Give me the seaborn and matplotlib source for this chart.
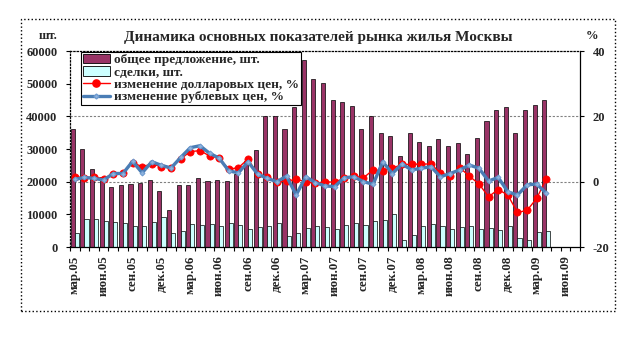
import numpy as np
import pandas as pd
import matplotlib
matplotlib.use('Agg')
import matplotlib.pyplot as plt
import seaborn as sns
from matplotlib.patches import Rectangle
from matplotlib.lines import Line2D

sns.set_theme(style='white')
plt.rcParams['font.family'] = ['Liberation Serif', 'DejaVu Serif']
plt.rcParams['font.weight'] = 'bold'

month_names = ['янв', 'фев', 'мар', 'апр', 'май', 'июн',
               'июл', 'авг', 'сен', 'окт', 'ноя', 'дек']
categories = [f'{m}.{y:02d}' for y in range(5, 10) for m in month_names][2:55]

tick_labels = ['мар.05', 'июн.05', 'сен.05', 'дек.05', 'мар.06', 'июн.06',
               'сен.06', 'дек.06', 'мар.07', 'июн.07', 'сен.07', 'дек.07',
               'мар.08', 'июн.08', 'сен.08', 'дек.08', 'мар.09', 'июн.09']

offer = [36000, 30000, 24000, 21500, 18300, 19000, 19200, 19600, 20600, 17200,
         11300, 19100, 19100, 21200, 20100, 20600, 20100, 22400, 26300, 29800,
         40000, 40000, 36000, 43000, 57200, 51300, 50300, 45000, 44300, 43300,
         36000, 40000, 35000, 34000, 28000, 35000, 32200, 31000, 33200, 31000,
         31800, 28600, 33500, 38600, 42000, 43000, 35000, 41800, 43400, 45000]

deals = [4300, 8600, 8500, 8000, 7700, 7300, 6400, 6400, 7600, 9300,
         4300, 4900, 7000, 6600, 7000, 6500, 7300, 6600, 5500, 6100,
         6500, 7300, 3400, 4300, 5900, 6300, 6100, 5600, 6600, 7300,
         6600, 7900, 8300, 10100, 2000, 3800, 6400, 7000, 6400, 5600,
         6100, 6500, 5600, 5900, 5100, 6400, 2900, 2100, 4700, 5000]

usd_change = [1.5, 1.2, 1.5, 0.9, 2.5, 2.7, 5.8, 4.6, 5.4, 4.6,
              4.1, 7.0, 9.2, 9.5, 7.9, 7.2, 3.8, 4.3, 6.9, 2.3,
              1.3, 0.0, 0.2, 0.7, 0.0, -0.5, 0.0, -0.2, 1.1, 1.7,
              1.2, 3.6, 3.3, 4.1, 5.3, 5.3, 5.4, 5.4, 2.7, 1.7,
              4.3, 1.7, -0.7, -4.6, -2.4, -4.1, -9.4, -8.8, -5.1, 0.9]

rub_change = [0.7, 1.3, 1.0, 0.5, 2.5, 2.5, 6.2, 2.7, 6.1, 5.0,
              4.2, 7.4, 10.4, 11.0, 8.7, 7.2, 3.3, 2.7, 6.1, 2.3,
              1.0, 0.0, 1.7, -4.1, 1.5, -0.3, -1.3, -1.5, 1.2, 1.5,
              0.0, -0.8, 6.1, 2.5, 5.4, 3.6, 4.1, 4.6, 1.5, 2.5,
              3.6, 5.1, 4.1, 0.2, 1.3, -3.1, -4.1, -1.0, -0.7, -3.6]

series_names = ['общее предложение, шт.', 'сделки, шт.',
                'изменение долларовых цен, %', 'изменение рублевых цен, %']

MAROON = '#993366'
CYAN = '#CCFFFF'
RED = '#FF0000'
BLUE = '#4A7DB5'

n = len(offer)
df = pd.DataFrame({
    'month': categories[:n] * 2,
    'series': [series_names[0]] * n + [series_names[1]] * n,
    'value': offer + deals,
})

W, H = 641, 341
fig = plt.figure(figsize=(W / 100, H / 100), dpi=100)
fig.patch.set_facecolor('white')

ax1 = fig.add_axes([70 / W, 1 - 247 / H, 510 / W, 196 / H])
ax1.set_facecolor('white')
for y in (20000, 40000):
    ax1.axhline(y, color='#808080', lw=0.8, ls=(0, (2, 1.5)), zorder=0)

sns.barplot(data=df, x='month', y='value', hue='series', order=categories,
            hue_order=series_names[:2], palette=[MAROON, CYAN], width=0.85,
            edgecolor='black', linewidth=0.5, saturation=1, errorbar=None,
            legend=False, ax=ax1)

ax1.set_ylim(0, 60000)
ax1.set_yticks(range(0, 60001, 10000))
ax1.set_yticklabels([str(v) for v in range(0, 60001, 10000)])
ax1.set_xlabel('')
ax1.set_ylabel('')

ax2 = ax1.twinx()
xs = np.arange(n)
sns.lineplot(x=xs, y=usd_change, ax=ax2, color=RED, lw=1.0, marker='o',
             markersize=5.2, markeredgecolor=RED, markeredgewidth=0.5)
sns.lineplot(x=xs, y=rub_change, ax=ax2, color=BLUE, lw=2.4, marker='D',
             markersize=2.5, markeredgecolor='#6F9BD0', markerfacecolor='#8FB3DD')
ax2.set_ylim(-20, 40)
ax2.set_yticks([-20, 0, 20, 40])
ax2.set_yticklabels(['-20', '0', '20', '40'])
ax2.set_ylabel('')

for ax in (ax1, ax2):
    ax.set_xlim(-0.5, len(categories) - 0.5)
    for s in ax.spines.values():
        s.set_visible(False)

ax1.spines['left'].set_visible(True)
ax1.spines['left'].set_color('black')
ax1.spines['left'].set_linestyle(':')
ax1.spines['left'].set_linewidth(0.9)
ax1.spines['top'].set_visible(True)
ax1.spines['top'].set_color('black')
ax1.spines['top'].set_linestyle(':')
ax1.spines['top'].set_linewidth(0.9)
ax1.spines['bottom'].set_visible(True)
ax1.spines['bottom'].set_color('black')
ax1.spines['bottom'].set_linewidth(0.9)
ax2.spines['right'].set_visible(True)
ax2.spines['right'].set_color('black')
ax2.spines['right'].set_linewidth(0.9)

# x ticks: marks at category boundaries, labels every 3rd category
ax1.set_xticks(np.arange(len(categories) + 1) - 0.5, minor=True)
ax1.set_xticks([categories.index(t) for t in tick_labels])
ax1.set_xticklabels(tick_labels, rotation=90, fontsize=9.3, fontweight='bold')
ax1.tick_params(axis='x', which='major', length=0, pad=6)
ax1.tick_params(axis='x', which='minor', length=3, width=0.8, color='black',
                direction='out', bottom=True)
ax1.tick_params(axis='y', length=3, width=0.8, color='black', direction='out',
                left=True, labelsize=9, pad=6)
ax2.tick_params(axis='y', length=3, width=0.8, color='black', direction='out',
                right=True, labelsize=9, pad=6)
for lab in ax1.get_yticklabels() + ax2.get_yticklabels():
    lab.set_fontweight('bold')

handles = [
    Rectangle((0, 0), 1, 1, facecolor=MAROON, edgecolor='black', lw=0.6),
    Rectangle((0, 0), 1, 1, facecolor=CYAN, edgecolor='black', lw=0.6),
    Line2D([], [], color=RED, lw=1.0, marker='o', markersize=5.2),
    Line2D([], [], color=BLUE, lw=2.4, marker='D', markersize=2.5,
           markeredgecolor='#6F9BD0', markerfacecolor='#8FB3DD'),
]
leg = fig.legend(handles, series_names, loc='upper left',
                 bbox_to_anchor=(81 / W, 1 - 52 / H),
                 bbox_transform=fig.transFigure, frameon=True, fancybox=False,
                 edgecolor='black', facecolor='white', framealpha=1,
                 prop={'family': 'Liberation Serif', 'weight': 'bold', 'size': 9.6},
                 borderpad=0.15, labelspacing=0.0, handlelength=2.0,
                 handletextpad=0.3, borderaxespad=0)
leg.get_frame().set_linewidth(0.8)

fig.text(318 / W, 1 - 37 / H, 'Динамика основных показателей рынка жилья Москвы',
         ha='center', va='center', fontsize=11, fontweight='bold')
fig.text(48 / W, 1 - 36 / H, 'шт.', ha='center', va='center', fontsize=9,
         fontweight='bold')
fig.text(592 / W, 1 - 36 / H, '%', ha='center', va='center', fontsize=9,
         fontweight='bold')

fig.add_artist(Rectangle((21 / W, 1 - 311 / H), 594 / W, 292 / H,
                         transform=fig.transFigure, fill=False, ls=':',
                         lw=1.0, ec='black'))

fig.savefig('out.png', dpi=100, facecolor='white')
